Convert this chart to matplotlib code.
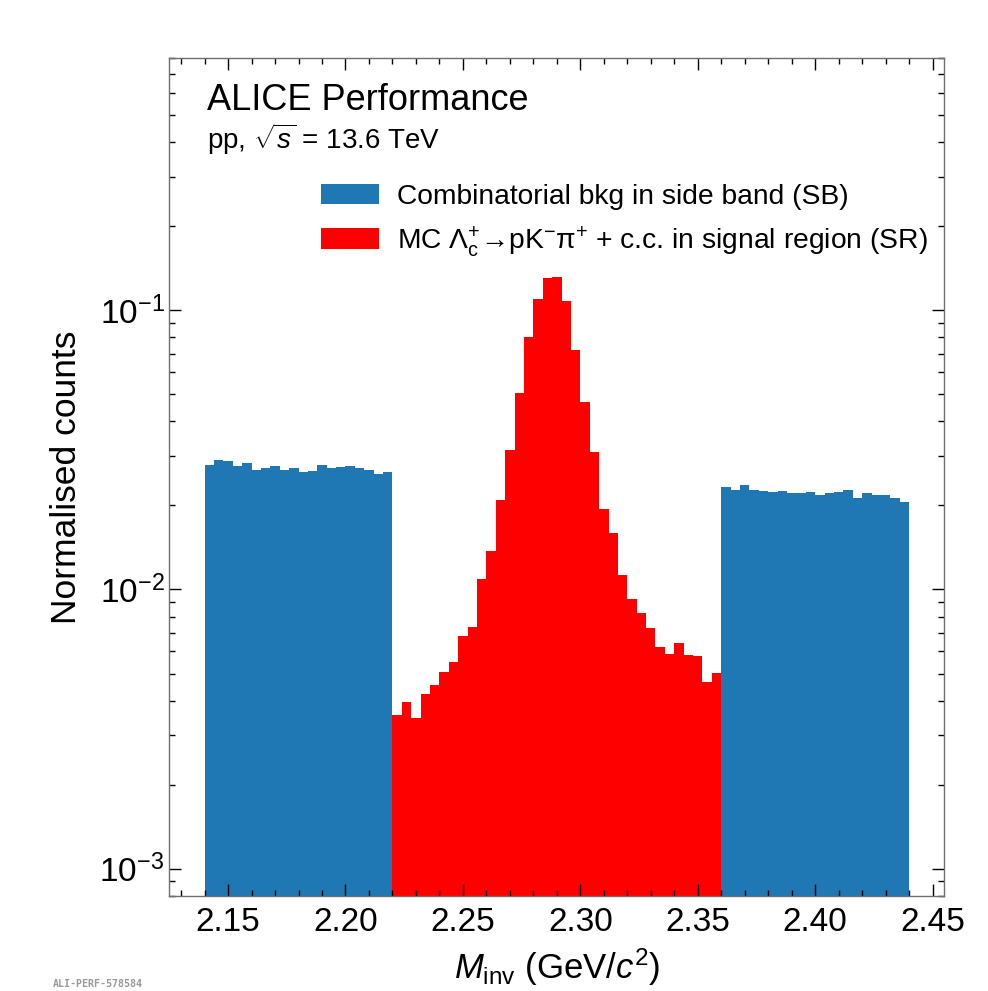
import matplotlib
matplotlib.use("Agg")
import matplotlib.pyplot as plt
from matplotlib.ticker import MultipleLocator
import numpy as np

plt.rcParams['font.family'] = ['Liberation Sans', 'DejaVu Sans']
plt.rcParams['mathtext.fontset'] = 'custom'
plt.rcParams['mathtext.rm'] = 'Liberation Sans'
plt.rcParams['mathtext.it'] = 'Liberation Sans:italic'
plt.rcParams['mathtext.bf'] = 'Liberation Sans:bold'

# Binning: 0.004 GeV/c^2 wide bins
bin_width = 0.004
sb_left_edges = np.round(np.arange(2.14, 2.22 - 1e-9, bin_width), 4)
sr_edges = np.round(np.arange(2.22, 2.36 - 1e-9, bin_width), 4)
sb_right_edges = np.round(np.arange(2.36, 2.44 - 1e-9, bin_width), 4)

# Side band (left), normalised counts
sb_left_counts = [0.0279, 0.0292, 0.0289, 0.0277, 0.0285, 0.0269, 0.0272, 0.0278,
                  0.0269, 0.0272, 0.0263, 0.0266, 0.0279, 0.0272, 0.0274, 0.0278,
                  0.0272, 0.0267, 0.0260, 0.0263]
# Side band (right), normalised counts
sb_right_counts = [0.0233, 0.0228, 0.0236, 0.0227, 0.0225, 0.0223, 0.0226, 0.0222,
                   0.0222, 0.0223, 0.0218, 0.0222, 0.0223, 0.0227, 0.0213, 0.0221,
                   0.0218, 0.0218, 0.0212, 0.0206]
# MC signal region, normalised counts
sr_counts = [0.00356, 0.00396, 0.00347, 0.00422, 0.00455, 0.00508, 0.00552, 0.00682,
             0.00735, 0.0109, 0.0137, 0.0210, 0.0316, 0.0504, 0.0805, 0.1098,
             0.1306, 0.1314, 0.1083, 0.0723, 0.0470, 0.0312, 0.0195, 0.0159,
             0.0113, 0.00927, 0.00825, 0.00729, 0.00622, 0.00585, 0.00642, 0.00582,
             0.00579, 0.00467, 0.00503]

sb_label = "Combinatorial bkg in side band (SB)"
sr_label = r"MC $\Lambda_{\mathrm{c}}^{+}$→pK$^{-}$π$^{+}$ + c.c. in signal region (SR)"

fig = plt.figure(figsize=(9.88, 9.91), dpi=100)
ax = fig.add_axes([0.1714, 0.0962, 0.7844, 0.8450])

sb_x = np.concatenate([sb_left_edges, sb_right_edges])
sb_w = np.concatenate([sb_left_counts, sb_right_counts])
sb_bins = np.round(np.arange(2.14, 2.44 + 1e-9, bin_width), 4)
ax.hist(sb_x + bin_width / 2, bins=sb_bins, weights=sb_w, color='#1f77b4',
        label=sb_label)
sr_bins = np.round(np.arange(2.22, 2.36 + 1e-9, bin_width), 4)
ax.hist(sr_edges + bin_width / 2, bins=sr_bins, weights=sr_counts, color='red',
        label=sr_label)

ax.set_yscale('log')
ax.set_xlim(2.125, 2.455)
ax.set_ylim(8e-4, 0.8)

ax.xaxis.set_major_locator(MultipleLocator(0.05))
ax.xaxis.set_minor_locator(MultipleLocator(0.01))
ax.tick_params(which='both', direction='in', top=True, right=True, labelsize=24)
ax.tick_params(which='major', length=8.5, width=1.0)
ax.tick_params(which='minor', length=4.5, width=1.0)
ax.tick_params(axis='x', pad=8)
for sp in ax.spines.values():
    sp.set_color('#707070')
    sp.set_linewidth(1.0)

ax.set_xlabel(r"$M_{\mathrm{inv}}$ (GeV/$c^{2}$)", fontsize=25, labelpad=6)
ax.set_ylabel("Normalised counts", fontsize=25.5, labelpad=12)

ax.text(0.048, 0.938, "ALICE Performance", transform=ax.transAxes, fontsize=26)
ax.text(0.048, 0.892, r"pp, $\sqrt{s}$ = 13.6 TeV", transform=ax.transAxes, fontsize=20)

ax.legend(loc='upper right', bbox_to_anchor=(1.004, 0.874), frameon=False,
          fontsize=20.3, handlelength=2.05, handleheight=0.75, handletextpad=0.65,
          labelspacing=0.5, borderaxespad=0.3)

fig.text(0.053, 0.004, "ALI-PERF-578584", fontsize=7.2, color='#999999',
         family='DejaVu Sans Mono', fontweight='bold')

plt.savefig("out.png", dpi=100)
plt.close()
